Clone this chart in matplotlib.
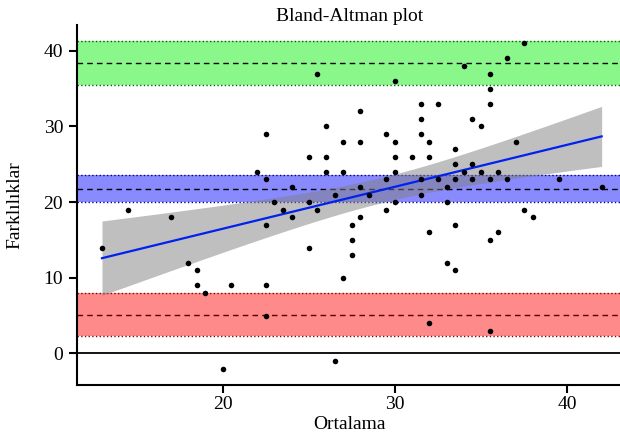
import numpy as np
import matplotlib
matplotlib.use("Agg")
import matplotlib.pyplot as plt

# ---- data: averages (Ortalama) and differences (Farklılıklar) ----
avg = [13, 14.5, 17, 18, 18.5, 18.5, 19, 20.5, 20, 22.5, 22.5, 22.5, 23, 23.5, 24, 25, 25, 25.5, 26.5, 27,
       25.5, 22.5, 26, 25, 26, 22, 22.5, 26, 24, 26.5, 27, 27,
       28, 28, 30, 31.5, 32.5, 31.5, 29.5, 30, 31.5, 32,
       30, 31, 32, 30, 29.5, 28, 28.5, 31.5, 31.5, 30,
       29.5, 28, 32.5, 33, 33, 33.5, 33.5, 33.5, 34.5, 35,
       34.5, 34, 35, 34.5, 35.5, 36, 36.5, 35.5, 35.5, 35.5,
       34, 36.5, 37.5, 37, 39.5, 42, 37.5, 38,
       27.5, 27.5, 27.5, 32, 33.5, 33, 33.5, 35.5, 36, 32, 35.5]
diff = [14, 19, 18, 12, 11, 9, 8, 9, -2, 9, 5, 17, 20, 19, 18, 20, 14, 19, -1, 10,
        37, 29, 30, 26, 26, 24, 23, 24, 22, 21, 28, 24,
        32, 28, 36, 33, 33, 31, 29, 28, 29, 28,
        26, 26, 26, 24, 23, 22, 21, 23, 21, 20,
        19, 18, 23, 22, 20, 27, 25, 23, 31, 30,
        25, 24, 24, 23, 23, 24, 23, 33, 35, 37,
        38, 39, 41, 28, 23, 22, 19, 18,
        17, 15, 13, 16, 17, 12, 11, 15, 16, 4, 3]

# summary statistics as shown in the chart
mean_diff = 21.78
sd_diff = 8.49
mean_ci_half = 1.75
loa_ci_half = 2.88
reg_intercept = 5.38
reg_slope = 0.555

title = "Bland-Altman plot"
xlabel = "Ortalama"
ylabel = "Farklılıklar"
xticks = [20, 30, 40]
yticks = [0, 10, 20, 30, 40]

x = np.asarray(avg, float)
y = np.asarray(diff, float)
n = len(x)

loa_hi = mean_diff + 1.96 * sd_diff
loa_lo = mean_diff - 1.96 * sd_diff

# regression line with 95% CI
xs = np.linspace(x.min(), x.max(), 100)
yhat = reg_intercept + reg_slope * xs
res = y - (reg_intercept + reg_slope * x)
s = np.sqrt(np.sum(res ** 2) / (n - 2))
sxx = np.sum((x - x.mean()) ** 2)
se = s * np.sqrt(1.0 / n + (xs - x.mean()) ** 2 / sxx)
t = 1.987

plt.rcParams['font.family'] = ['Liberation Serif', 'DejaVu Serif']
fig = plt.figure(figsize=(6.2, 4.36), dpi=100)
ax = fig.add_axes([0.1242, 0.117, 0.8865, 0.8266])

# bands
bands = [(loa_hi, loa_ci_half, '#00ee00', '#006400', 'k'),
         (mean_diff, mean_ci_half, '#0000ff', '#00008b', 'k'),
         (loa_lo, loa_ci_half, '#ff0000', '#8b0000', '#5a0000')]
for c, w, col, edge, mid in bands:
    ax.axhspan(c - w, c + w, color=col, alpha=0.46, lw=0, zorder=1)
    ax.axhline(c - w, color=edge, ls=':', lw=1.0, zorder=2)
    ax.axhline(c + w, color=edge, ls=':', lw=1.0, zorder=2)
    ax.axhline(c, color=mid, ls=(0, (4, 3)), lw=1.0, zorder=2)

ax.axhline(0, color='black', lw=1.3, zorder=2)

ax.fill_between(xs, yhat - t * se, yhat + t * se, color='gray', alpha=0.5, lw=0, zorder=3)
ax.plot(xs, yhat, color='#0022ee', lw=1.6, zorder=4)
ax.scatter(x, y, s=16, color='black', zorder=5, linewidths=0)

ax.set_xticks(xticks)
ax.set_yticks(yticks)
ax.spines['top'].set_visible(False)
ax.spines['right'].set_visible(False)
for sp in ('left', 'bottom'):
    ax.spines[sp].set_linewidth(1.5)
ax.tick_params(direction='out', length=5.5, width=1.5, labelsize=14)
ax.tick_params(axis='x', pad=2.5)
ax.tick_params(axis='y', pad=4.5)
ax.set_title(title, fontsize=14, pad=0)
ax.title.set_x(0.4955)
ax.set_xlabel(xlabel, fontsize=14)
ax.set_ylabel(ylabel, fontsize=14)
ax.xaxis.set_label_coords(0.4955, -0.086)
ax.yaxis.set_label_coords(-0.097, 0.5)

fig.savefig("out.png", dpi=100)
